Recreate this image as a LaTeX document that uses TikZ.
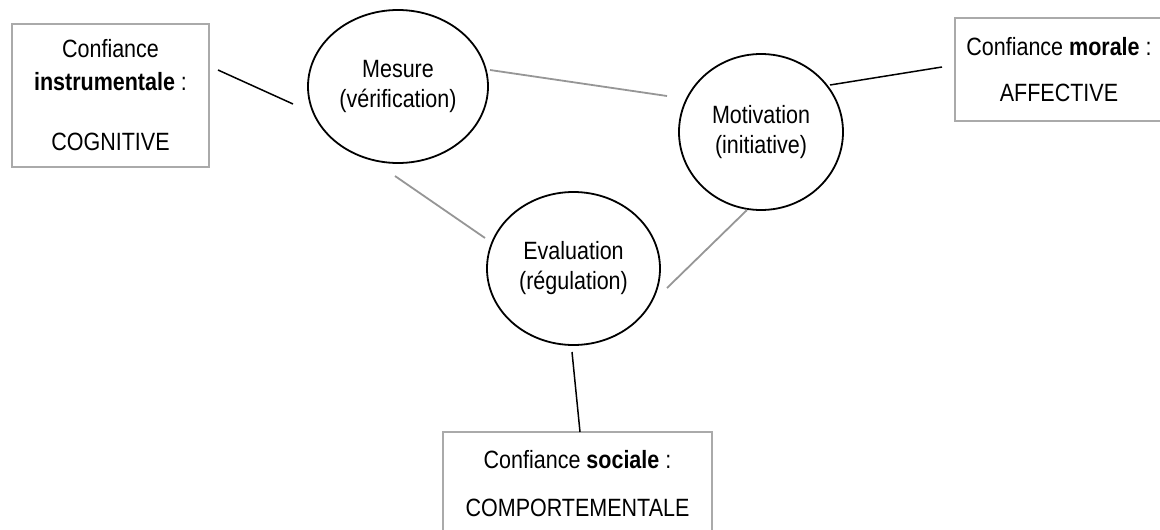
\documentclass[tikz,border=0pt]{standalone}
\usepackage{fontspec}
\setmainfont{Liberation Sans}[FakeStretch=0.86]
\usetikzlibrary{shapes.geometric}
\definecolor{boxgray}{RGB}{170,170,170}
\definecolor{linegray}{RGB}{150,150,150}
\begin{document}
\begin{tikzpicture}[x=1pt,y=-1pt,
  every node/.style={font=\fontsize{25}{30}\selectfont, align=center, inner sep=0pt},
  boxnode/.style={draw=boxgray, line width=1.6pt, rectangle},
  oval/.style={draw=black, line width=1.8pt, ellipse},
  dark/.style={draw=black, line width=1.5pt},
  light/.style={draw=linegray, line width=1.8pt}]
\useasboundingbox (0,0) rectangle (1160,530);
% boxes
\node[boxnode, minimum width=197pt, minimum height=143pt] (cog) at (110.5,95.5)
  {Confiance\\[3pt]\textbf{instrumentale} :\\[30pt]COGNITIVE};
\node[boxnode, minimum width=208pt, minimum height=103pt] (aff) at (1059,69.5)
  {Confiance \textbf{morale} :\\[16pt]AFFECTIVE};
\node[boxnode, minimum width=269pt, minimum height=104pt] (comp) at (577.5,484)
  {Confiance \textbf{sociale} :\\[18pt]COMPORTEMENTALE};
% ellipses
\node[oval, minimum width=180pt, minimum height=153pt] (mes) at (398,86.5)
  {Mesure\\(vérification)};
\node[oval, minimum width=164pt, minimum height=156pt] (mot) at (761,132)
  {\raisebox{-5pt}{\parbox{110pt}{\centering Motivation\\(initiative)}}};
\node[oval, minimum width=173pt, minimum height=153pt] (eva) at (573.5,268.5)
  {Evaluation\\(régulation)};
% connector end points
\coordinate (c1a) at (218,70);  \coordinate (c1b) at (293,104);
\coordinate (c2a) at (490,70);  \coordinate (c2b) at (667,96);
\coordinate (c3a) at (830,85);  \coordinate (c3b) at (942,67);
\coordinate (c4a) at (395,176); \coordinate (c4b) at (485,238);
\coordinate (c5a) at (747,210); \coordinate (c5b) at (667,288);
\coordinate (c6a) at (572,352); \coordinate (c6b) at (580,432);
% connectors
\draw[dark] (c1a) -- (c1b);
\draw[light] (c2a) -- (c2b);
\draw[dark] (c3a) -- (c3b);
\draw[light] (c4a) -- (c4b);
\draw[light] (c5a) -- (c5b);
\draw[dark] (c6a) -- (c6b);
\end{tikzpicture}
\end{document}
